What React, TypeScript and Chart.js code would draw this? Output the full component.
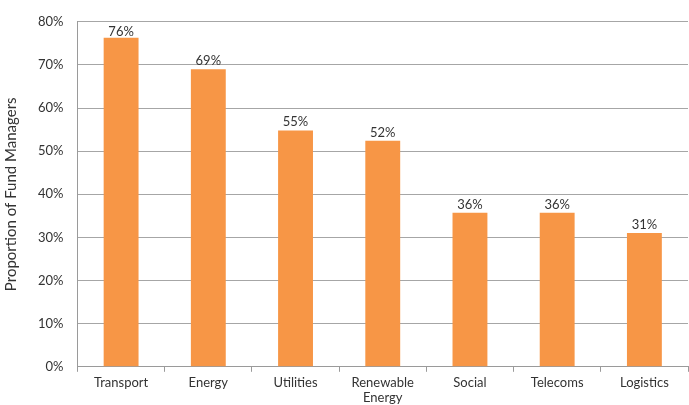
import React, { useEffect, useRef } from "react";
import { Chart, registerables } from "chart.js";

Chart.register(...registerables);

const categories: (string | string[])[] = ["Transport", "Energy", "Utilities", ["Renewable", "Energy"], "Social", "Telecoms", "Logistics"];
const values: number[] = [76.3, 69.0, 54.8, 52.4, 35.7, 35.7, 31.0];
const yTicks: number[] = [0, 10, 20, 30, 40, 50, 60, 70, 80];
const yTitle = "Proportion of Fund Managers";

const FONT = "Lato, 'DejaVu Sans', sans-serif";

const labelPlugin = {
  id: "barLabels",
  afterDatasetsDraw(chart: any) {
    const ctx = chart.ctx;
    const meta = chart.getDatasetMeta(0);
    const top = chart.chartArea.top;
    ctx.save();
    ctx.font = `13px ${FONT}`;
    ctx.fillStyle = "#333333";
    ctx.textAlign = "center";
    ctx.textBaseline = "bottom";
    meta.data.forEach((bar: any, i: number) => {
      const y = Math.max(bar.y - 2, top + 17);
      ctx.fillText(`${Math.round(values[i])}%`, bar.x, y);
    });
    ctx.restore();
  },
};

export default function App() {
  const ref = useRef<HTMLCanvasElement | null>(null);
  useEffect(() => {
    document.body.style.margin = "0";
    if (!ref.current) return;
    const chart = new Chart(ref.current, {
      type: "bar",
      data: {
        labels: categories,
        datasets: [
          {
            data: values,
            backgroundColor: "#F79646",
            barPercentage: 0.4,
            categoryPercentage: 1,
          },
        ],
      },
      options: {
        animation: false,
        responsive: false,
        devicePixelRatio: 1,
        layout: { padding: { top: 14, right: 1, left: 2, bottom: -4 } },
        plugins: { legend: { display: false }, tooltip: { enabled: false } },
        scales: {
          x: {
            offset: true,
            grid: {
              offset: true,
              drawOnChartArea: false,
              drawTicks: true,
              tickLength: 5,
              color: "#9a9a9a",
            },
            border: { color: "#9a9a9a" },
            ticks: {
              color: "#333333",
              font: { family: FONT, size: 13, lineHeight: 1.2 },
              padding: 3,
              maxRotation: 0,
              autoSkip: false,
            },
          },
          y: {
            min: 0,
            max: 80,
            afterBuildTicks: (axis: any) => {
              axis.ticks = yTicks.map((v) => ({ value: v }));
            },
            grid: { color: "#a6a6a6", drawTicks: false },
            border: { color: "#9a9a9a" },
            ticks: {
              color: "#333333",
              font: { family: FONT, size: 13 },
              padding: 14,
              callback: (v: any) => `${v}%`,
            },
            title: {
              display: true,
              text: yTitle,
              color: "#333333",
              font: { family: FONT, size: 15 },
              padding: { top: 0, bottom: 4 },
            },
          },
        },
      },
      plugins: [labelPlugin],
    });
    return () => chart.destroy();
  }, []);
  return (
    <div style={{ width: 689, height: 405 }}>
      <canvas ref={ref} width={689} height={405} style={{ display: "block" }} />
    </div>
  );
}
